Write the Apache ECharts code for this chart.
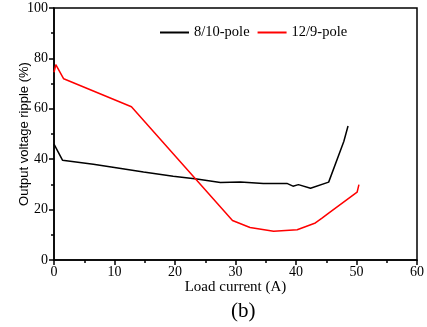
<!DOCTYPE html>
<html><head><meta charset="utf-8">
<script src="https://cdn.jsdelivr.net/npm/echarts@6/dist/echarts.min.js"></script>
<style>html,body{margin:0;padding:0;background:#fff}#c{width:427px;height:327px}</style>
</head><body><div id="c"></div>
<script>
const blackX = [0, 1.4, 6.5, 10, 14.8, 19.7, 23.6, 27.5, 30.8, 34.6, 38.5, 39.5, 40.4, 42.4, 45.4, 47.9, 48.6];
const blackY = [46, 39.6, 38.0, 36.7, 34.9, 33.2, 32.1, 30.8, 31.0, 30.4, 30.4, 29.3, 29.9, 28.5, 30.9, 47, 53.2];
const redX = [0, 0.3, 1.6, 12.8, 29.5, 32.4, 36.3, 40.2, 43.2, 44.3, 45.4, 50.1, 50.4];
const redY = [74.5, 77.5, 71.9, 60.8, 15.7, 12.9, 11.4, 12.0, 14.7, 16.6, 18.6, 26.9, 29.9];
const xTicks = [0, 10, 20, 30, 40, 50, 60];
const yTicks = [0, 20, 40, 60, 80, 100];
const seriesNames = ['8/10-pole', '12/9-pole'];

const zip = (xs, ys) => xs.map((x, i) => [x, ys[i]]);
const serif = 'Liberation Serif';
const chart = echarts.init(document.getElementById('c'), null, {renderer: 'canvas'});
chart.setOption({
  animation: false,
  backgroundColor: '#fff',
  grid: {left: 54, right: 10, top: 8, bottom: 67, show: true, borderColor: '#000', borderWidth: 1.5, backgroundColor: 'transparent', outerBoundsMode: 'none', containLabel: false},
  legend: {
    top: 20, left: 155, itemWidth: 29, itemHeight: 2, itemGap: 8,
    data: seriesNames.map(n => ({name: n, icon: 'rect'})),
    textStyle: {fontFamily: serif, fontSize: 14.5, color: '#000'}
  },
  xAxis: {
    type: 'value', min: xTicks[0], max: xTicks[xTicks.length - 1], interval: 10,
    name: 'Load current (A)', nameLocation: 'middle', nameGap: 20, nameMoveOverlap: false,
    nameTextStyle: {fontFamily: serif, fontSize: 15, color: '#000'},
    axisLine: {show: true, lineStyle: {color: '#000', width: 1.5}},
    axisTick: {show: true, length: 5, lineStyle: {color: '#000', width: 1.5}},
    minorTick: {show: true, splitNumber: 2, length: 3, lineStyle: {color: '#000', width: 1.5}},
    splitLine: {show: false},
    axisLabel: {fontFamily: serif, fontSize: 14, color: '#000', margin: 5}
  },
  yAxis: {
    type: 'value', min: yTicks[0], max: yTicks[yTicks.length - 1], interval: 20,
    name: 'Output voltage ripple (%)', nameLocation: 'middle', nameGap: 23, nameMoveOverlap: false,
    nameTextStyle: {fontFamily: 'Liberation Sans', fontSize: 13, color: '#000'},
    axisLine: {show: true, lineStyle: {color: '#000', width: 1.5}},
    axisTick: {show: true, length: 5, lineStyle: {color: '#000', width: 1.5}},
    minorTick: {show: true, splitNumber: 2, length: 3, lineStyle: {color: '#000', width: 1.5}},
    splitLine: {show: false},
    axisLabel: {fontFamily: serif, fontSize: 14, color: '#000', margin: 6}
  },
  series: [
    {name: seriesNames[0], type: 'line', symbol: 'none', data: zip(blackX, blackY), lineStyle: {color: '#000', width: 1.5}, itemStyle: {color: '#000'}},
    {name: seriesNames[1], type: 'line', symbol: 'none', data: zip(redX, redY), lineStyle: {color: '#ff0000', width: 1.5}, itemStyle: {color: '#ff0000'}}
  ],
  graphic: [{type: 'text', left: 231, top: 301, style: {text: '(b)', font: '21px "Liberation Serif"', fill: '#000'}}]
});
</script></body></html>
